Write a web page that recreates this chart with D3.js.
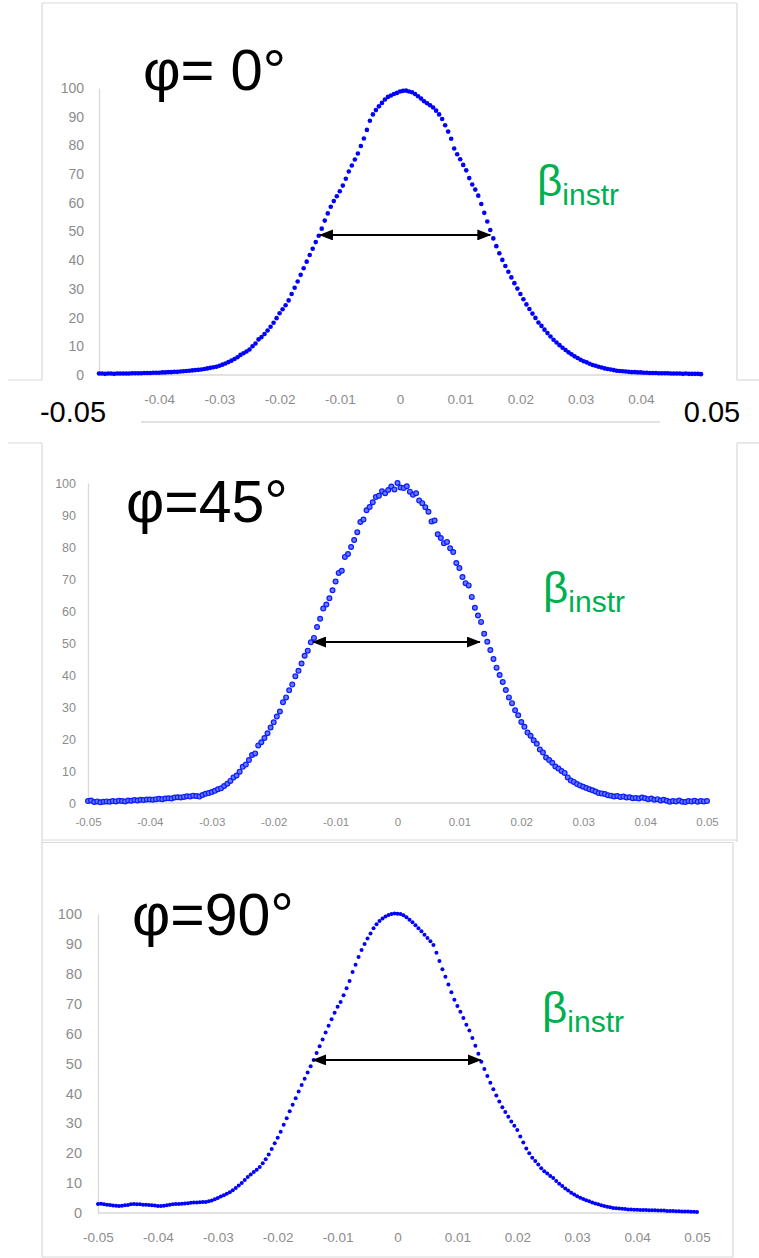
<!DOCTYPE html>
<html><head><meta charset="utf-8">
<script src="https://cdn.jsdelivr.net/npm/d3@7/dist/d3.min.js"></script>
<style>
html,body{margin:0;padding:0;background:#fff;}
svg{display:block;}
text{font-family:"Liberation Sans",Arial,sans-serif;}
</style></head>
<body>
<svg id="c" width="759" height="1258"></svg>
<script>
// ---------------- data ----------------
const xStart = -0.05, xStep = 0.0005, nPts = 201;
const xTicks = [-0.05,-0.04,-0.03,-0.02,-0.01,0,0.01,0.02,0.03,0.04,0.05];
const yTicks = [0,10,20,30,40,50,60,70,80,90,100];
const titles = ["φ= 0°","φ=45°","φ=90°"];
const betaMain = "β", betaSub = "instr";

const phi0 = [
0.5,0.5,0.4,0.5,0.5,0.4,0.5,0.5,0.5,0.5,0.5,0.6,0.6,0.6,0.6,0.7,0.7,0.7,0.8,0.8,0.8,
0.9,0.9,1.0,1.0,1.1,1.1,1.2,1.3,1.4,1.5,1.6,1.7,1.8,1.9,2.1,2.3,2.5,2.7,2.9,3.2,
3.6,4.0,4.5,5.0,5.6,6.2,7.0,7.6,8.2,8.9,10.0,11.0,12.4,13.2,14.3,15.5,16.8,18.2,19.8,21.5,
22.9,24.3,26.0,28.2,30.4,32.6,34.9,37.2,39.5,41.8,44.0,46.3,48.5,51.0,53.8,56.3,58.6,60.6,62.3,64.0,
66.0,68.4,70.9,73.0,75.1,77.2,79.8,82.4,85.4,88.6,90.8,92.3,93.6,94.8,96.0,96.9,97.4,97.9,98.3,98.8,
99.0,99.1,98.8,98.5,97.9,97.1,96.3,95.4,94.7,94.0,93.2,92.1,90.8,89.2,87.0,84.8,82.3,78.9,76.9,75.2,
73.2,71.3,68.6,66.4,64.6,62.5,59.6,56.5,53.5,50.5,47.6,44.9,42.4,40.1,38.0,36.0,34.0,32.0,30.1,28.2,
26.4,24.6,23.0,21.4,19.9,18.3,17.1,15.8,14.6,13.4,12.3,11.3,10.4,9.5,8.7,7.9,7.2,6.5,5.9,5.3,
4.8,4.4,3.9,3.5,3.2,2.9,2.6,2.3,2.1,1.9,1.7,1.5,1.4,1.3,1.2,1.1,1.0,1.0,0.9,0.9,
0.8,0.8,0.7,0.7,0.7,0.6,0.6,0.6,0.6,0.5,0.5,0.5,0.5,0.4,0.5,0.4,0.4,0.4,0.4,0.3
];
const phi45 = [
0.6,0.8,0.3,0.5,0.2,0.4,0.5,0.4,0.6,0.5,0.7,0.6,0.5,0.8,0.7,0.9,0.8,1.0,0.9,1.1,1.1,
1.0,1.2,1.3,1.2,1.4,1.5,1.4,1.7,1.8,1.7,1.9,2.1,2.0,2.3,2.2,2.0,2.5,2.9,3.1,3.4,
3.8,4.3,4.6,5.3,6.0,6.9,8.0,8.6,9.8,11.3,12.0,13.4,15.0,15.5,18.0,19.0,20.3,21.8,23.6,25.2,
27.0,28.6,31.5,33.0,35.2,37.0,39.6,41.3,43.6,46.0,47.6,50.2,51.6,55.0,57.6,60.8,62.0,64.0,66.5,69.2,
71.9,72.6,76.9,77.8,80.0,82.2,84.6,87.8,88.6,91.5,92.5,94.0,95.6,96.0,97.4,96.8,97.8,98.9,98.0,100.0,
98.6,98.4,99.0,97.3,96.3,96.8,94.5,93.7,92.4,91.0,88.0,88.3,84.0,82.8,81.2,81.6,79.6,78.4,75.0,73.4,
70.6,68.7,68.0,64.4,61.0,58.6,56.6,52.9,50.4,47.8,45.0,42.3,40.0,37.8,35.3,33.0,31.2,29.0,27.4,25.3,
23.8,22.0,21.0,19.6,18.5,16.7,15.8,14.2,13.4,12.6,11.4,10.8,10.0,9.4,8.0,7.0,6.6,5.9,5.5,5.1,
4.7,4.3,4.0,3.6,3.1,3.0,2.8,2.4,2.3,2.0,2.2,1.9,2.0,1.7,1.8,1.5,1.6,1.4,1.7,1.5,
1.2,1.4,1.0,1.2,0.8,1.0,0.7,0.4,0.6,0.5,0.8,0.4,0.3,0.6,0.5,0.7,0.4,0.6,0.5,0.6
];
const phi90 = [
3.0,3.1,2.9,2.8,2.7,2.5,2.4,2.3,2.4,2.6,2.7,2.9,3.0,2.9,2.9,2.8,2.8,2.7,2.6,2.5,2.3,
2.3,2.4,2.6,2.8,2.9,3.0,3.0,3.1,3.2,3.3,3.4,3.5,3.5,3.6,3.7,3.7,3.9,4.2,4.6,5.0,
5.5,5.9,6.4,6.9,7.6,8.4,9.2,10.0,11.0,12.0,12.9,13.7,14.5,15.4,16.6,18.0,19.6,21.4,23.3,25.2,
27.2,29.5,31.7,34.0,36.2,38.4,40.6,42.8,44.9,47.0,49.1,51.2,53.5,55.8,58.0,60.4,62.6,64.8,67.0,69.0,
70.6,72.8,75.2,77.6,80.6,83.0,85.6,88.0,90.0,91.8,93.5,95.2,96.6,97.7,98.5,99.2,99.7,100.0,100.2,100.1,
100.0,99.6,98.9,98.1,97.2,96.2,95.2,94.2,93.1,92.0,90.9,89.6,87.0,84.3,81.5,79.0,76.4,73.8,71.3,69.2,
67.3,65.2,63.0,61.0,58.5,55.9,53.3,50.6,48.2,45.8,43.6,41.4,39.3,37.3,35.4,33.8,32.2,30.6,29.2,27.8,
25.6,23.6,21.6,20.0,18.5,17.4,16.2,15.0,14.0,13.2,12.4,11.7,10.7,9.8,9.0,8.2,7.5,6.8,6.2,5.6,
5.1,4.7,4.3,3.9,3.5,3.2,2.9,2.6,2.3,2.1,1.9,1.7,1.6,1.5,1.4,1.3,1.2,1.2,1.1,1.1,
1.0,1.0,1.0,0.9,0.9,0.9,0.8,0.8,0.8,0.7,0.7,0.7,0.6,0.6,0.5,0.5,0.5,0.4,0.4,0.3
];
// FWHM arrows: [x left, x right, level]
const arrow0 = [-0.0133, 0.0150, 48.8];
const arrow45 = [-0.01365, 0.0133, 50.3];
const arrow90 = [-0.0141, 0.0139, 51.2];

// ---------------- layout ----------------
const xs = d3.range(nPts).map(i => +(xStart + i*xStep).toFixed(4));
const svg = d3.select("#c");
const GRAY = "#d9d9d9", TICK = "#8c8c8c", GREEN = "#00b050", BLUE = "#0000ff";

svg.append("defs").append("marker")
  .attr("id","ah").attr("viewBox","0 0 14 11").attr("refX",13).attr("refY",5.5)
  .attr("markerWidth",7).attr("markerHeight",5.5).attr("markerUnits","strokeWidth")
  .attr("preserveAspectRatio","none")
  .attr("orient","auto-start-reverse")
  .append("path").attr("d","M0,0 L14,5.5 L0,11 z").attr("fill","#000");

// frame lines
const frame = [
  [42,380,42,3],[42,3,737,3],[737,3,737,380],[8,380,42,380],[737,380,759,380],
  [141,422,660,422],
  [8,443,42,443],[737,443,759,443],[42,443,42,1257],[737,443,737,842],
  [42,840,737,840],[42,842.5,733,842.5],[733,842.5,733,1257],[42,1257,733,1257]
];
svg.append("g").selectAll("line").data(frame).join("line")
  .attr("x1",d=>d[0]).attr("y1",d=>d[1]).attr("x2",d=>d[2]).attr("y2",d=>d[3])
  .attr("stroke",GRAY).attr("stroke-width",d=>d[1]===422?1.6:1.2);

const fmt = d => d === 0 ? "0" : String(+d.toFixed(2));

const panels = [
  {vals:phi0, arrow:arrow0, title:titles[0], xr:[99,701], yr:[375,88], ylPad:15, ylSize:14,
   xlY:399, xlSize:13.5, xTickVals:xTicks.slice(1,-1), titleX:143, titleY:90, titleSize:58,
   betaX:537, betaY:196, r:2.3, hollow:false},
  {vals:phi45, arrow:arrow45, title:titles[1], xr:[88,707], yr:[803,483], ylPad:12, ylSize:12.5,
   xlY:822, xlSize:11.5, xTickVals:xTicks, titleX:126, titleY:522, titleSize:59,
   betaX:543, betaY:603, r:2.4, hollow:true},
  {vals:phi90, arrow:arrow90, title:titles[2], xr:[98,697], yr:[1213,914], ylPad:16, ylSize:14.5,
   xlY:1237, xlSize:13.5, xTickVals:xTicks, titleX:132, titleY:935, titleSize:59,
   betaX:542, betaY:1023, r:2.0, hollow:false}
];

panels.forEach(p => {
  const x = d3.scaleLinear().domain([-0.05,0.05]).range(p.xr);
  const y = d3.scaleLinear().domain([0,100]).range(p.yr);
  const g = svg.append("g");

  // y axis
  const ya = g.append("g").attr("transform",`translate(${p.xr[0]},0)`)
    .call(d3.axisLeft(y).tickValues(yTicks).tickSize(0).tickPadding(p.ylPad).tickSizeOuter(0));
  ya.select(".domain").attr("stroke",GRAY).attr("stroke-width",1.3);
  ya.selectAll("text").attr("fill",TICK).style("font-size",p.ylSize+"px")
    .style("font-family","'Liberation Sans',Arial,sans-serif");

  // x axis
  const xa = g.append("g").attr("transform",`translate(0,${p.yr[0]})`)
    .call(d3.axisBottom(x).tickValues(p.xTickVals).tickSize(0).tickSizeOuter(0).tickFormat(fmt));
  xa.select(".domain").attr("stroke",GRAY).attr("stroke-width",1.3)
    .attr("d",`M${p.xr[0]},0H${p.xr[1]}`);
  xa.selectAll("text").attr("fill",TICK).style("font-size",p.xlSize+"px")
    .style("font-family","'Liberation Sans',Arial,sans-serif")
    .attr("y",p.xlY - p.yr[0]).attr("dy","0.35em");

  // points
  const pts = xs.map((xv,i) => [xv, p.vals[i]]);
  g.append("g").selectAll("circle").data(pts).join("circle")
    .attr("cx",d=>x(d[0])).attr("cy",d=>y(d[1])).attr("r",p.r)
    .attr("fill",p.hollow ? "#6a78ff" : BLUE)
    .attr("stroke",p.hollow ? "#0a1cff" : "none")
    .attr("stroke-width",p.hollow ? 1.2 : 0);

  // arrow
  g.append("line")
    .attr("x1",x(p.arrow[0])).attr("x2",x(p.arrow[1]))
    .attr("y1",y(p.arrow[2])).attr("y2",y(p.arrow[2]))
    .attr("stroke","#000").attr("stroke-width",2)
    .attr("marker-start","url(#ah)").attr("marker-end","url(#ah)");

  // title
  g.append("text").attr("x",p.titleX).attr("y",p.titleY)
    .style("font-size",p.titleSize+"px").attr("fill","#000").text(p.title);

  // beta label
  const bt = g.append("text").attr("x",p.betaX).attr("y",p.betaY)
    .attr("fill",GREEN).style("font-size","44px").text(betaMain);
  bt.append("tspan").attr("dy",9).style("font-size","30px").text(betaSub);
});

// big end labels of the top panel
svg.append("g").selectAll("text").data([xTicks[0], xTicks[xTicks.length-1]]).join("text")
  .attr("x",d => d < 0 ? 73 : 712).attr("y",422).attr("text-anchor","middle")
  .style("font-size","29px").attr("fill","#000").text(fmt);
</script>
</body></html>
